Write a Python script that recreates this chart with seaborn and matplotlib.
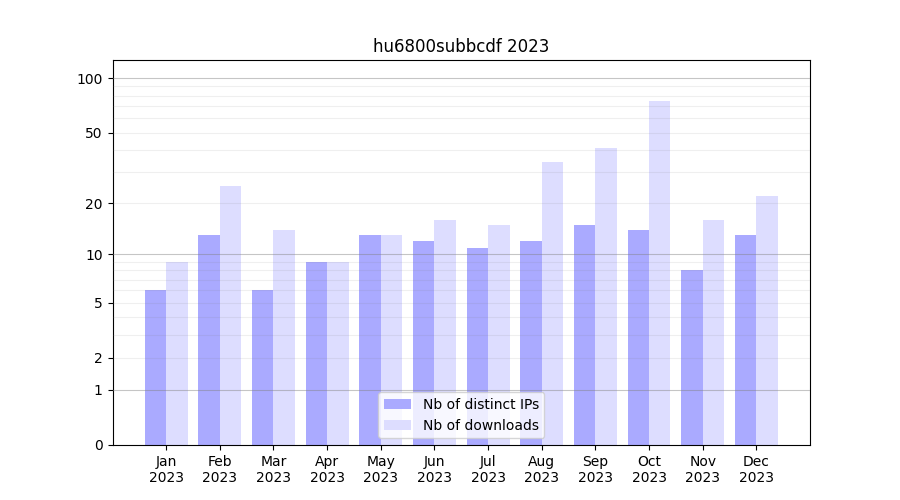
import numpy as np
import pandas as pd
import matplotlib
matplotlib.use('Agg')
import matplotlib.pyplot as plt
import seaborn as sns

months = ['Jan', 'Feb', 'Mar', 'Apr', 'May', 'Jun', 'Jul', 'Aug', 'Sep', 'Oct', 'Nov', 'Dec']
year = '2023'
distinct_ips = [6, 13, 6, 9, 13, 12, 11, 12, 15, 14, 8, 13]
downloads = [9, 25, 14, 9, 13, 16, 15, 34, 41, 75, 16, 22]
y_ticks = [0, 1, 2, 5, 10, 20, 50, 100]

df = pd.DataFrame({
    'month': months * 2,
    'count': distinct_ips + downloads,
    'kind': ['Nb of distinct IPs'] * 12 + ['Nb of downloads'] * 12,
})


def _fwd(y):
    return np.log10(1 + np.clip(y, 0, None))


def _inv(y):
    return 10 ** y - 1


fig, ax = plt.subplots(figsize=(9, 5), dpi=100)
sns.barplot(data=df, x='month', y='count', hue='kind', ax=ax,
            palette=['#aaaaff', '#ddddff'], linewidth=0, width=0.8,
            saturation=1, zorder=2)

ax.set_yscale('function', functions=(_fwd, _inv))
ax.set_ylim(0, 126)
ax.set_xlim(-1, 12)
ax.set_yticks(y_ticks)
ax.set_yticklabels([str(t) for t in y_ticks])
ax.yaxis.set_minor_locator(matplotlib.ticker.NullLocator())

# grid: darker at decades, faint in between
for v in [1, 10, 100]:
    ax.axhline(v, color='gray', alpha=0.45, lw=0.8, zorder=3)
for v in list(range(2, 10)) + list(range(20, 100, 10)):
    ax.axhline(v, color='gray', alpha=0.12, lw=0.8, zorder=3)

ax.set_xticks(range(12))
ax.set_xticklabels([f'{m}\n{year}' for m in months])
ax.set_xlabel('')
ax.set_ylabel('')
ax.set_title(f'hu6800subbcdf {year}')
ax.legend(loc='lower center', title=None)

fig.savefig('out.png')
